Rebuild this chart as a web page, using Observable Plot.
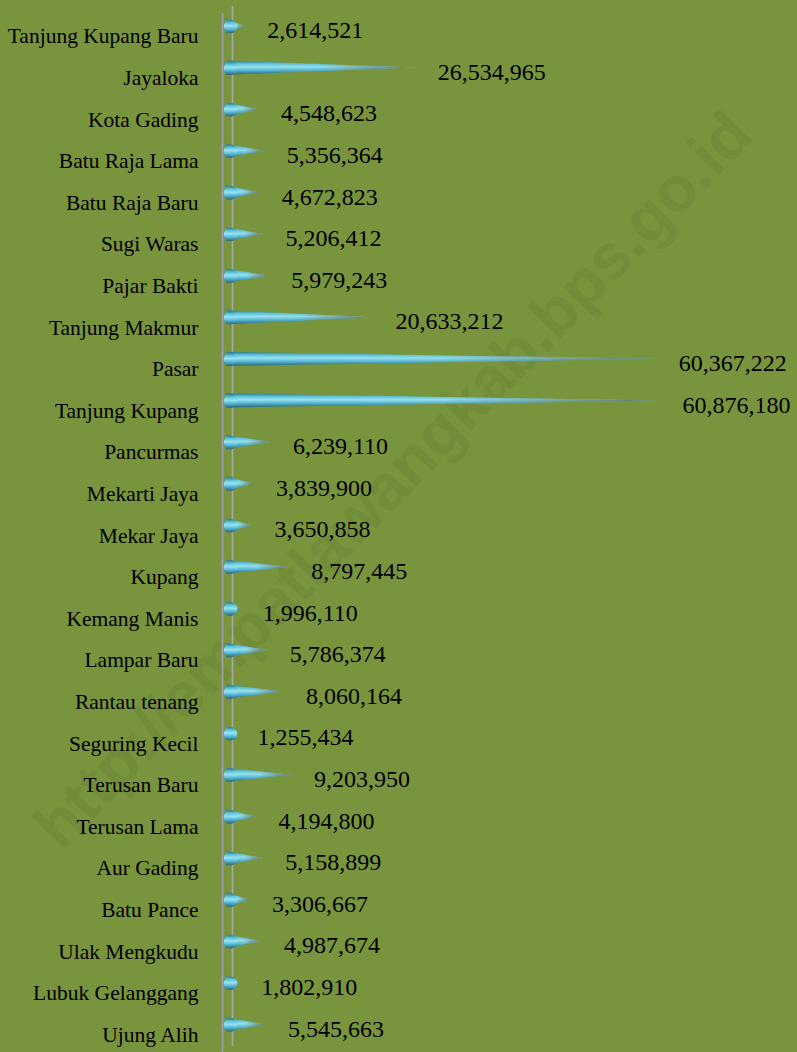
<!DOCTYPE html>
<html><head><meta charset="utf-8">
<script src="https://cdn.jsdelivr.net/npm/d3@7"></script>
<script src="https://cdn.jsdelivr.net/npm/@observablehq/plot@0.6"></script>
<style>html,body{margin:0;padding:0;background:#78943c;} #chart{width:797px;height:1052px;}</style>
</head><body><div id="chart"></div>
<script>
const categories = ["Tanjung Kupang Baru","Jayaloka","Kota Gading","Batu Raja Lama","Batu Raja Baru","Sugi Waras","Pajar Bakti","Tanjung Makmur","Pasar","Tanjung Kupang","Pancurmas","Mekarti Jaya","Mekar Jaya","Kupang","Kemang Manis","Lampar Baru","Rantau tenang","Seguring Kecil","Terusan Baru","Terusan Lama","Aur Gading","Batu Pance","Ulak Mengkudu","Lubuk Gelanggang","Ujung Alih"];
const values = [2614521,26534965,4548623,5356364,4672823,5206412,5979243,20633212,60367222,60876180,6239110,3839900,3650858,8797445,1996110,5786374,8060164,1255434,9203950,4194800,5158899,3306667,4987674,1802910,5545663];
const watermark = ["http://empatlawangkab.bps.go.id"];

const rows = categories.map((name, i) => ({name, i, value: values[i]}));
const half = 0.17;
const cones = rows.flatMap(d => [
  {name: d.name, y: d.i - half, x: 0},
  {name: d.name, y: d.i, x: d.value},
  {name: d.name, y: d.i + half, x: 0}
]);
const fmt = d3.format(",");
const serif = "Liberation Serif, Times New Roman, serif";

const chart = Plot.plot({
  width: 797,
  height: 1052,
  marginLeft: 226,
  marginRight: 137,
  marginTop: 6,
  marginBottom: 6,
  style: {background: "#78943c", overflow: "visible", fontFamily: serif},
  x: {domain: [0, 60876180], axis: null},
  y: {type: "linear", domain: [-0.5, 24.5], range: [5.2, 1045.2], axis: null},
  marks: [
    Plot.text(watermark, {frameAnchor: "middle", dx: -50, dy: -46, rotate: -45.8, fontSize: 64, fontWeight: "bold", fontFamily: "Liberation Sans, Arial, sans-serif", fill: "#718d3a"}),
    Plot.ruleX([0], {dx: -4, y1: -0.31, y2: 24.66, stroke: "#a79db4", strokeWidth: 1.7}),
    Plot.ruleX([0], {dx: 6, y1: -0.48, y2: 24.52, stroke: "#aaa7a4", strokeWidth: 1.7}),
    Plot.areaX(cones, {x: "x", y: "y", z: "name", fill: "url(#coneV)", curve: "linear"}),
    Plot.areaX(cones, {x: "x", y: "y", z: "name", fill: "url(#coneH)", curve: "linear"}),
    Plot.dot(rows, {x: 0, y: "i", dx: 4, r: 6.8, fill: "url(#coneV)"}),
    Plot.text(rows, {x: 0, y: "i", text: "name", dx: -28, dy: 10, textAnchor: "end", fontSize: 21.5, fontFamily: serif, fill: "#000"}),
    Plot.text(rows, {x: "value", y: "i", text: d => fmt(d.value), dx: 22, dy: 4, textAnchor: "start", fontSize: 24, fontFamily: serif, fill: "#000"})
  ]
});

const ns = "http://www.w3.org/2000/svg";
const defs = document.createElementNS(ns, "defs");
defs.innerHTML = `
<linearGradient id="coneV" x1="0" y1="0" x2="0" y2="1">
  <stop offset="0" stop-color="#2f7686"/>
  <stop offset="0.22" stop-color="#5ac2da"/>
  <stop offset="0.45" stop-color="#9ae4ef"/>
  <stop offset="0.7" stop-color="#52b5d6"/>
  <stop offset="1" stop-color="#2c6270"/>
</linearGradient>
<linearGradient id="coneH" x1="0" y1="0" x2="1" y2="0">
  <stop offset="0" stop-color="#5a6a5a" stop-opacity="0"/>
  <stop offset="0.5" stop-color="#5a6a5a" stop-opacity="0.05"/>
  <stop offset="1" stop-color="#5d6458" stop-opacity="0.85"/>
</linearGradient>`;
chart.insertBefore(defs, chart.firstChild);
document.getElementById("chart").append(chart);
</script>
</body></html>
